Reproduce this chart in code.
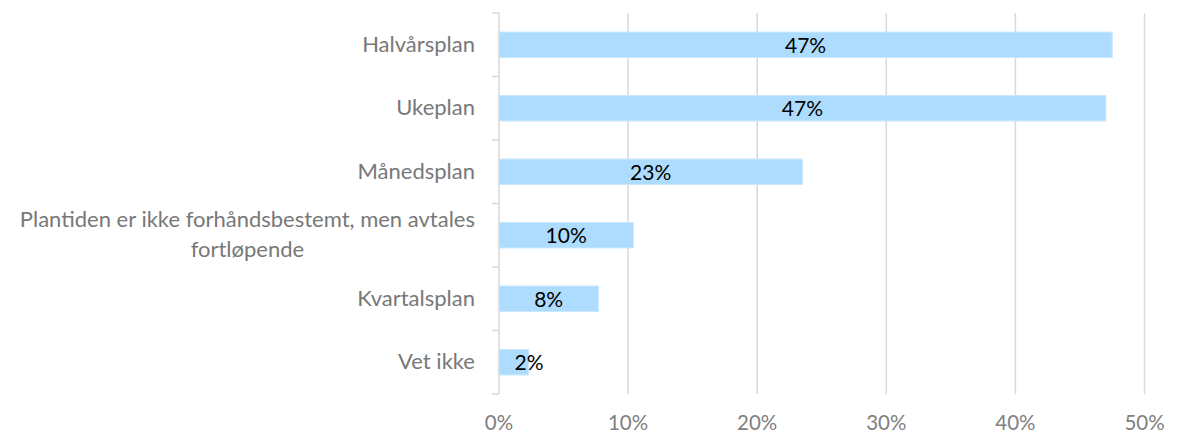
<!DOCTYPE html>
<html>
<head>
<meta charset="utf-8">
<script src="https://cdn.jsdelivr.net/npm/d3@7"></script>
<style>
  body { margin: 0; background: #fff; }
  svg { display: block; font-family: Lato, "Open Sans", sans-serif; }
</style>
</head>
<body>
<div id="chart"></div>
<script>
// categories, top to bottom
const categories = [
  'Halvårsplan',
  'Ukeplan',
  'Månedsplan',
  'Plantiden er ikke forhåndsbestemt, men avtales fortløpende',
  'Kvartalsplan',
  'Vet ikke'
];
// share of answers, in percent
const values = [47.5, 47.0, 23.5, 10.4, 7.7, 2.3];
const valueLabels = ['47%', '47%', '23%', '10%', '8%', '2%'];
const xTicks = [0, 10, 20, 30, 40, 50];

const width = 1179,
  height = 434,
  margin = { top: 13, right: 35, bottom: 40, left: 499 };

const svg = d3
  .select('#chart')
  .append('svg')
  .attr('width', width)
  .attr('height', height);

const x = d3
  .scaleLinear()
  .domain([0, 50])
  .range([margin.left, 1144.5]);

const y = d3
  .scaleBand()
  .domain(categories)
  .range([margin.top, height - margin.bottom])
  .paddingInner(0.6)
  .paddingOuter(0.3);

const grid = '#d9d9d9';

// vertical gridlines
svg
  .append('g')
  .selectAll('line')
  .data(xTicks.slice(1))
  .enter()
  .append('line')
  .attr('x1', d => x(d))
  .attr('x2', d => x(d))
  .attr('y1', margin.top)
  .attr('y2', height - margin.bottom)
  .attr('stroke', grid)
  .attr('stroke-width', 1.5);

// x tick labels
svg
  .append('g')
  .selectAll('text')
  .data(xTicks)
  .enter()
  .append('text')
  .attr('x', d => x(d))
  .attr('y', 430)
  .attr('text-anchor', 'middle')
  .attr('fill', '#808080')
  .style('font-size', '20.5px')
  .text(d => d + '%');

// bars
svg
  .append('g')
  .selectAll('rect')
  .data(values)
  .enter()
  .append('rect')
  .attr('x', x(0))
  .attr('y', (d, i) => y(categories[i]))
  .attr('width', d => x(d) - x(0))
  .attr('height', y.bandwidth())
  .attr('fill', '#addcfe')
  .attr('stroke', '#c8e7ff')
  .attr('stroke-width', 1);

// y axis line + category ticks
const step = y.step();
const yAxis = svg.append('g');
yAxis
  .append('line')
  .attr('x1', x(0))
  .attr('x2', x(0))
  .attr('y1', margin.top)
  .attr('y2', height - margin.bottom)
  .attr('stroke', grid)
  .attr('stroke-width', 1.5);
yAxis
  .selectAll('line.tick')
  .data(d3.range(categories.length + 1))
  .enter()
  .append('line')
  .attr('class', 'tick')
  .attr('x1', x(0) - 7)
  .attr('x2', x(0))
  .attr('y1', i => margin.top + i * step)
  .attr('y2', i => margin.top + i * step)
  .attr('stroke', grid)
  .attr('stroke-width', 1.5);

// category labels (right aligned, long one split in two lines)
const labelRight = 475;
categories.forEach((c, i) => {
  const cy = y(c) + y.bandwidth() / 2;
  if (c.length > 40) {
    const lines = ['Plantiden er ikke forhåndsbestemt, men avtales', 'fortløpende'];
    const g = svg.append('g');
    const t1 = g
      .append('text')
      .attr('x', labelRight)
      .attr('y', cy - 15 + 7)
      .attr('text-anchor', 'end')
      .attr('fill', '#787878')
      .style('font-size', '22px')
      .text(lines[0]);
    const w = t1.node().getComputedTextLength();
    g.append('text')
      .attr('x', labelRight - w / 2)
      .attr('y', cy + 15 + 7)
      .attr('text-anchor', 'middle')
      .attr('fill', '#787878')
      .style('font-size', '22px')
      .text(lines[1]);
  } else {
    svg
      .append('text')
      .attr('x', labelRight)
      .attr('y', cy + 7)
      .attr('text-anchor', 'end')
      .attr('fill', '#787878')
      .style('font-size', '22px')
      .text(c);
  }
});

// value labels, centered in bar
svg
  .append('g')
  .selectAll('text')
  .data(values)
  .enter()
  .append('text')
  .attr('x', d => Math.max((x(0) + x(d)) / 2, x(0) + 30))
  .attr('y', (d, i) => y(categories[i]) + y.bandwidth() / 2 + 8)
  .attr('text-anchor', 'middle')
  .attr('fill', '#000')
  .style('font-size', '21px')
  .text((d, i) => valueLabels[i]);
</script>
</body>
</html>
